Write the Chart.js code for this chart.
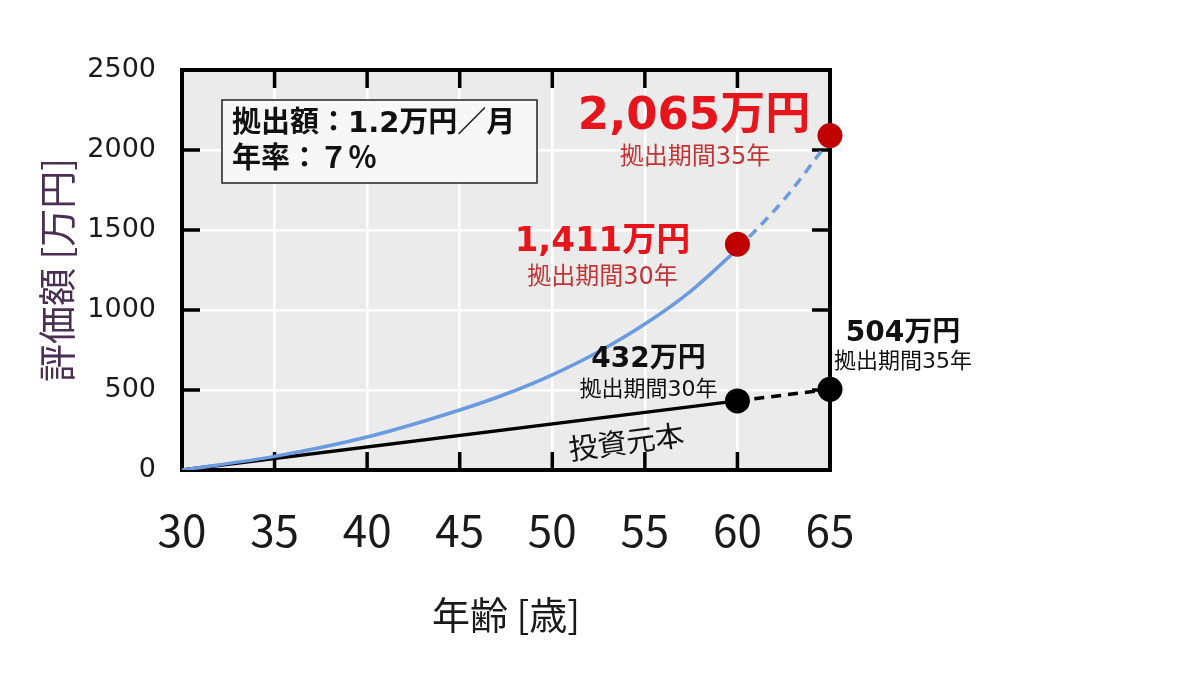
<!DOCTYPE html>
<html lang="ja">
<head>
<meta charset="UTF-8">
<title>評価額の推移</title>
<script src="https://cdn.jsdelivr.net/npm/chart.js"></script>
<style>
  html, body { margin: 0; padding: 0; background: #fff; }
  canvas { display: block; }
</style>
</head>
<body>
<canvas id="chart" width="1200" height="675"></canvas>
<script>
// 年齢 [歳] と 評価額 [万円]
const ageTicks = [30, 35, 40, 45, 50, 55, 60, 65];
const valueTicks = [0, 500, 1000, 1500, 2000, 2500];

const growthAges = [30, 35, 40, 45, 47.5, 50, 52.5, 55, 57.5, 60];
const growthValues = [0, 85, 206, 375, 475, 595, 739, 912, 1120, 1380];
const growthProjAges = [60, 62.5, 65];
const growthProjValues = [1380, 1688, 2065];

const principalAges = [30, 60];
const principalValues = [0, 432];
const principalProjAges = [60, 65];
const principalProjValues = [432, 504];

const markerAges = [60, 65];
const redMarkerValues = [1411, 2090];
const blackMarkerValues = [432, 504];

const JP = '"Noto Sans CJK JP", sans-serif';
const NUM_JP = '"DejaVu Sans", "Noto Sans CJK JP", sans-serif';

function toXY(xs, ys) {
    return xs.map((x, i) => ({ x: x, y: ys[i] }));
}

// 注記（アンカーはデータ座標、dx/dy はピクセル）
const labels = [
    { x: 65, y: 2090, dx: -136, dy: -18, text: '2,065万円', font: 'bold 45px ' + NUM_JP, color: '#e8141c' },
    { x: 65, y: 2090, dx: -135, dy: 22, text: '拠出期間35年', font: '24px ' + NUM_JP, color: '#c43434' },
    { x: 60, y: 1411, dx: -135, dy: -2, text: '1,411万円', font: 'bold 34px ' + NUM_JP, color: '#e8141c' },
    { x: 60, y: 1411, dx: -135, dy: 34, text: '拠出期間30年', font: '24px ' + NUM_JP, color: '#c43434' },
    { x: 60, y: 432, dx: -89, dy: -41, text: '432万円', font: 'bold 28px ' + NUM_JP, color: '#111' },
    { x: 60, y: 432, dx: -89, dy: -11, text: '拠出期間30年', font: '22px ' + NUM_JP, color: '#111' },
    { x: 65, y: 504, dx: 73, dy: -56, text: '504万円', font: 'bold 28px ' + NUM_JP, color: '#111' },
    { x: 65, y: 504, dx: 73, dy: -27, text: '拠出期間35年', font: '22px ' + NUM_JP, color: '#111' },
];

const chartDecor = {
    id: 'chartDecor',
    beforeDraw(chart) {
        const { ctx, chartArea: a } = chart;
        ctx.save();
        ctx.fillStyle = '#fff';
        ctx.fillRect(0, 0, chart.width, chart.height);
        ctx.fillStyle = '#ebebeb';
        ctx.fillRect(a.left, a.top, a.right - a.left, a.bottom - a.top);
        ctx.restore();
    },
    beforeDatasetsDraw(chart) {
        const { ctx, chartArea: a, scales } = chart;
        const tick = 18;
        ctx.save();
        ctx.strokeStyle = '#000';
        ctx.lineWidth = 3.5;
        ctx.beginPath();
        ageTicks.slice(1, -1).forEach(v => {
            const px = scales.x.getPixelForValue(v);
            ctx.moveTo(px, a.bottom); ctx.lineTo(px, a.bottom - tick);
            ctx.moveTo(px, a.top); ctx.lineTo(px, a.top + tick);
        });
        valueTicks.slice(1, -1).forEach(v => {
            const py = scales.y.getPixelForValue(v);
            ctx.moveTo(a.left, py); ctx.lineTo(a.left + tick, py);
            ctx.moveTo(a.right, py); ctx.lineTo(a.right - tick, py);
        });
        ctx.stroke();
        ctx.lineWidth = 4;
        ctx.strokeRect(a.left, a.top, a.right - a.left, a.bottom - a.top);
        ctx.restore();
    },
    afterDatasetsDraw(chart) {
        const { ctx, chartArea: a, scales } = chart;
        ctx.save();

        // 条件の枠
        const bx = a.left + 40, by = a.top + 30, bw = 315, bh = 83;
        ctx.fillStyle = '#f7f7f7';
        ctx.fillRect(bx, by, bw, bh);
        ctx.strokeStyle = '#222';
        ctx.lineWidth = 1.5;
        ctx.strokeRect(bx, by, bw, bh);
        ctx.fillStyle = '#111';
        ctx.font = 'bold 29px ' + NUM_JP;
        ctx.textAlign = 'left';
        ctx.textBaseline = 'middle';
        ctx.fillText('拠出額：1.2万円／月', bx + 10, by + 24);
        ctx.fillText('年率：７％', bx + 10, by + 60);

        ctx.textAlign = 'center';
        labels.forEach(l => {
            ctx.font = l.font;
            ctx.fillStyle = l.color;
            ctx.fillText(l.text, scales.x.getPixelForValue(l.x) + l.dx, scales.y.getPixelForValue(l.y) + l.dy);
        });

        // 投資元本
        ctx.translate(scales.x.getPixelForValue(54), scales.y.getPixelForValue(178));
        ctx.rotate(-7.5 * Math.PI / 180);
        ctx.font = '29px ' + JP;
        ctx.fillStyle = '#111';
        ctx.fillText('投資元本', 0, 0);
        ctx.restore();
    }
};

new Chart(document.getElementById('chart'), {
    type: 'line',
    data: {
        datasets: [
            {
                data: toXY(markerAges, redMarkerValues),
                showLine: false, pointRadius: 12.5, pointBackgroundColor: '#c00000',
                pointBorderWidth: 0, clip: false, order: 0,
            },
            {
                data: toXY(markerAges, blackMarkerValues),
                showLine: false, pointRadius: 12.5, pointBackgroundColor: '#000',
                pointBorderWidth: 0, clip: false, order: 0,
            },
            {
                data: toXY(growthAges, growthValues),
                borderColor: '#6a9ae0', borderWidth: 3.5, pointRadius: 0,
                cubicInterpolationMode: 'monotone', order: 1,
            },
            {
                data: toXY(growthProjAges, growthProjValues),
                borderColor: '#6a9ae0', borderWidth: 3.5, borderDash: [10, 7], pointRadius: 0,
                cubicInterpolationMode: 'monotone', order: 1,
            },
            {
                data: toXY(principalAges, principalValues),
                borderColor: '#000', borderWidth: 3.5, pointRadius: 0, order: 1,
            },
            {
                data: toXY(principalProjAges, principalProjValues),
                borderColor: '#000', borderWidth: 3.5, borderDash: [10, 7], pointRadius: 0, order: 1,
            },
        ],
    },
    options: {
        responsive: false,
        animation: false,
        devicePixelRatio: 1,
        layout: { padding: { top: 70, right: 370, left: 0, bottom: 0 } },
        plugins: { legend: { display: false }, tooltip: { enabled: false } },
        scales: {
            x: {
                type: 'linear', min: 30, max: 65,
                afterBuildTicks: s => { s.ticks = ageTicks.map(v => ({ value: v })); },
                afterFit: s => { s.height = 205; },
                grid: { color: '#fff', lineWidth: 2.5, drawTicks: false },
                border: { display: false },
                ticks: { padding: 34, color: '#1a1a1a', font: { family: JP, size: 44 }, callback: v => String(v) },
                title: {
                    display: true, text: '年齢 [歳]', color: '#1a1a1a',
                    font: { family: JP, size: 38 }, padding: { bottom: 38 },
                },
            },
            y: {
                min: 0, max: 2500,
                afterBuildTicks: s => { s.ticks = valueTicks.map(v => ({ value: v })); },
                afterFit: s => { s.width = 182; },
                grid: { color: '#fff', lineWidth: 2.5, drawTicks: false },
                border: { display: false },
                ticks: { padding: 26, color: '#1a1a1a', font: { family: '"DejaVu Sans", sans-serif', size: 27 }, callback: v => String(v) },
                title: {
                    display: true, text: '評価額 [万円]', color: '#4a2f52',
                    font: { family: JP, size: 38 }, padding: { top: 34 },
                },
            },
        },
    },
    plugins: [chartDecor],
});
</script>
</body>
</html>
